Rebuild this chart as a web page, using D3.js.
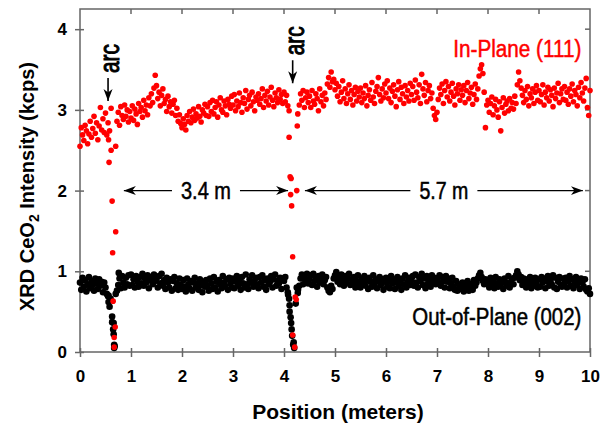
<!DOCTYPE html>
<html>
<head>
<meta charset="utf-8">
<script src="https://cdn.jsdelivr.net/npm/d3@7"></script>
<style>
  body { margin: 0; background: #fff; }
  text { font-family: "Liberation Sans", Arial, sans-serif; }
</style>
</head>
<body>
<div id="chart"></div>
<script>
// ===== DATA =====
// scan sampled every 0.025 m starting at 0 m; null = inside an arc dip (listed apart)
const POS_STEP = 0.025;

const inPlane = [
  2.55,2.78,2.69,2.62,2.81,2.74,2.58,2.70,2.86,2.66,2.77,2.92,2.71,2.84,2.63,2.80,3.03,2.75,2.89,2.72,
  2.96,2.69,2.84,null,null,null,null,null,null,2.86,2.97,2.81,3.04,2.93,2.88,3.06,2.92,3.00,2.85,2.98,
  2.90,3.05,2.87,3.01,2.95,2.82,3.08,2.98,3.03,2.91,3.12,2.99,3.06,2.94,3.15,3.05,3.20,3.09,3.27,3.43,
  3.30,3.14,3.22,3.05,3.18,3.26,3.08,3.13,2.98,3.17,3.04,3.10,2.96,3.07,3.12,2.93,3.02,2.86,2.94,2.83,
  2.78,2.89,2.82,2.75,2.93,2.86,2.98,2.84,2.91,3.01,2.87,2.95,2.90,3.04,2.92,2.85,3.00,2.96,3.07,2.93,
  3.04,2.92,3.09,2.98,3.12,2.95,3.03,3.10,2.91,3.06,3.15,3.00,2.97,3.11,3.05,2.94,3.13,3.07,3.02,3.17,
  3.06,3.19,2.99,3.11,3.04,3.21,3.09,2.97,3.15,3.08,3.24,3.01,3.13,3.18,3.05,3.22,3.10,2.99,3.16,3.12,
  3.20,3.07,3.14,3.26,3.03,3.18,3.11,3.23,3.06,3.16,3.28,3.12,3.04,3.21,3.15,3.09,3.25,3.13,3.19,3.08,
  3.22,3.10,3.18,3.05,null,null,null,null,null,null,null,null,3.06,3.20,3.12,3.24,3.03,3.15,3.22,3.09,
  3.17,3.03,3.24,3.11,3.07,3.20,3.14,2.99,3.26,3.10,3.18,3.05,3.21,3.13,3.32,3.40,3.28,3.47,3.35,3.38,
  3.25,3.33,3.17,3.29,3.10,3.22,3.36,3.14,3.26,3.08,3.20,3.31,3.13,3.24,3.06,3.19,3.28,3.11,3.23,3.16,
  3.27,3.09,3.21,3.14,3.30,3.05,3.18,3.25,3.12,3.34,3.16,3.08,3.23,3.29,3.40,3.19,3.11,3.26,3.15,3.32,
  3.21,3.36,3.14,3.27,3.09,3.23,3.31,3.17,3.04,3.25,3.35,3.13,3.28,3.20,3.08,3.30,3.16,3.24,3.11,3.33,
  3.19,3.29,3.12,3.37,3.22,3.15,3.31,3.08,3.44,3.26,3.18,3.34,3.10,3.24,3.30,3.14,3.21,3.02,2.93,2.88,
  2.97,3.13,3.27,3.19,3.32,3.08,3.24,3.35,3.16,3.29,3.11,3.22,3.33,3.17,3.06,3.26,3.20,3.31,3.12,3.25,
  3.18,3.30,3.09,3.24,3.34,3.14,3.21,3.28,3.07,3.19,3.32,3.13,3.26,3.42,3.51,3.56,3.45,3.22,2.78,3.06,
  3.12,2.97,3.08,3.16,2.94,3.05,3.13,3.00,2.91,3.10,2.74,3.03,3.15,2.96,3.07,3.11,2.99,3.14,3.02,3.09,
  3.01,3.17,3.08,3.31,3.47,3.36,3.27,3.18,3.09,3.24,3.13,3.29,3.05,3.20,3.15,3.26,3.08,3.22,3.30,3.12,
  3.24,3.10,3.19,3.31,3.06,3.22,3.15,3.28,3.11,3.25,3.18,3.04,3.27,3.14,3.21,3.33,3.09,3.20,3.26,3.13,
  3.29,3.12,3.22,3.07,3.26,3.17,3.32,3.10,3.24,3.19,3.05,3.28,3.15,3.34,3.21,3.11,3.27,3.39,3.03,2.93,
  3.24
];

const outPlane = [
  0.86,0.77,0.92,0.81,0.89,0.75,0.84,0.93,0.79,0.88,0.83,0.76,0.91,0.85,0.78,0.90,0.82,0.87,0.74,0.86,
  0.80,0.72,0.69,null,null,null,null,null,null,0.76,0.83,0.91,0.79,0.94,0.86,0.80,0.92,0.84,0.95,0.82,
  0.96,0.83,0.90,0.80,0.94,0.87,0.81,0.93,0.85,0.97,0.82,0.91,0.86,0.95,0.79,0.89,0.93,0.84,0.96,0.88,
  0.91,0.80,0.94,0.85,0.97,0.82,0.89,0.78,0.92,0.86,0.80,0.90,0.76,0.88,0.93,0.79,0.85,0.77,0.91,0.83,
  0.78,0.89,0.81,0.75,0.91,0.84,0.79,0.88,0.76,0.86,0.92,0.80,0.85,0.77,0.90,0.83,0.74,0.87,0.81,0.89,
  0.82,0.76,0.91,0.85,0.78,0.93,0.80,0.87,0.75,0.89,0.84,0.79,0.94,0.86,0.81,0.90,0.77,0.92,0.85,0.80,
  0.91,0.79,0.87,0.94,0.82,0.89,0.77,0.93,0.85,0.80,0.96,0.84,0.78,0.90,0.86,0.95,0.81,0.88,0.92,0.83,
  0.79,0.93,0.86,0.95,0.81,0.89,0.77,0.91,0.84,0.87,0.94,0.80,0.90,0.96,0.82,0.88,0.85,0.92,0.78,0.91,
  0.88,0.93,0.80,0.74,null,null,null,null,null,null,null,0.77,0.82,0.91,0.96,0.84,0.93,0.87,0.97,0.85,
  0.90,0.95,0.83,0.97,0.88,0.92,0.81,0.94,0.86,0.91,0.96,0.84,0.89,0.93,0.80,0.76,0.74,0.82,0.78,0.91,
  0.95,0.99,0.87,0.93,0.84,0.96,0.89,0.82,0.94,0.86,0.91,0.97,0.83,0.90,0.85,0.93,0.80,0.88,0.95,0.84,
  0.80,0.91,0.86,0.94,0.82,0.89,0.78,0.92,0.87,0.81,0.95,0.84,0.90,0.79,0.88,0.93,0.83,0.90,0.77,0.87,
  0.92,0.81,0.88,0.79,0.94,0.85,0.90,0.78,0.86,0.93,0.82,0.89,0.77,0.91,0.84,0.95,0.80,0.87,0.92,0.83,
  0.89,0.94,0.82,0.96,0.86,0.80,0.93,0.88,0.97,0.83,0.91,0.79,0.94,0.85,0.90,0.81,0.95,0.87,0.92,0.84,
  0.91,0.86,0.95,0.82,0.93,0.88,0.80,0.94,0.87,0.91,0.79,0.85,0.92,0.81,0.77,0.88,0.76,0.84,0.80,0.78,
  0.86,0.75,0.83,0.79,0.88,0.76,0.84,0.81,0.77,0.89,0.82,0.86,0.91,0.95,0.98,0.93,0.88,0.84,0.90,0.85,
  0.89,0.80,0.92,0.84,0.87,0.79,0.93,0.85,0.81,0.90,0.83,0.88,0.78,0.91,0.86,0.82,0.94,0.80,0.87,0.91,
  0.84,0.92,0.95,1.00,0.96,0.89,0.93,0.83,0.91,0.86,0.80,0.90,0.84,0.93,0.79,0.88,0.82,0.92,0.85,0.80,
  0.90,0.81,0.93,0.86,0.91,0.79,0.88,0.94,0.82,0.89,0.84,0.95,0.80,0.92,0.78,0.87,0.93,0.83,0.81,0.91,
  0.85,0.92,0.80,0.88,0.94,0.82,0.90,0.79,0.87,0.93,0.83,0.89,0.78,0.91,0.86,0.81,0.90,0.77,0.75,0.79,
  0.72
];

// points in the two arc dips [position, intensity]
const inPlaneArc = [
  [0.56,2.63],[0.58,2.74],[0.61,3.02],[0.61,2.50],[0.57,2.35],[0.70,2.55],[0.63,1.87],[0.70,1.49],
  [0.64,1.23],[0.65,0.63],[0.69,0.31],[0.67,0.18],[0.67,0.06],
  [4.10,2.99],[4.10,2.66],[4.12,2.17],[4.14,2.15],[4.13,1.95],[4.15,1.81],[4.17,1.18],[4.25,2.00],
  [4.26,2.80],[4.27,2.95],[4.24,0.65],[4.22,0.68],[4.17,0.21],[4.21,0.06]
];
const outPlaneArc = [
  [0.56,0.70],[0.56,0.62],[0.58,0.56],[0.60,0.66],[0.63,0.44],[0.63,0.37],[0.66,0.36],[0.65,0.28],
  [0.66,0.22],[0.67,0.09],[0.67,0.05],[0.68,0.07],[0.70,0.72],[0.76,0.98],
  [4.08,0.71],[4.10,0.66],[4.11,0.58],[4.11,0.50],[4.13,0.43],[4.14,0.36],[4.15,0.28],[4.16,0.20],
  [4.18,0.09],[4.20,0.05],[4.19,0.12],[4.25,0.80],[4.27,0.73],[4.23,0.60]
];

const xTicks = [0,1,2,3,4,5,6,7,8,9,10];
const yTicks = [0,1,2,3,4];

// arc markers: position, arrow tip intensity
const arcNotes = [
  { x: 0.55, tip: 3.11, label: "arc" },
  { x: 4.17, tip: 3.33, label: "arc" }
];
// distances between arcs
const spans = [
  { from: 0.86, to: 4.08, y: 2.0, label: "3.4 m", len: 50 },
  { from: 4.41, to: 9.86, y: 2.0, label: "5.7 m", len: 49 }
];
const seriesLabels = [
  { label: "In-Plane (111)", x: 9.83, y: 3.65, color: "#ff0000", len: 128 },
  { label: "Out-of-Plane (002)", x: 9.83, y: 0.33, color: "#000", len: 169 }
];

// ===== CHART =====
const width = 609, height = 428;
const margin = { top: 9, right: 19, bottom: 76, left: 80 };

const svg = d3.select("#chart").append("svg")
  .attr("width", width)
  .attr("height", height);

const x = d3.scaleLinear().domain([0, 10]).range([margin.left, width - margin.right]);
const y = d3.scaleLinear().domain([0, 4.25]).range([height - margin.bottom, margin.top]);

const axisColor = "#666";

// arrow head
svg.append("defs").append("marker")
  .attr("id", "head")
  .attr("viewBox", "0 -5 12 10")
  .attr("refX", 12).attr("refY", 0)
  .attr("markerWidth", 12).attr("markerHeight", 10)
  .attr("markerUnits", "userSpaceOnUse")
  .attr("orient", "auto")
  .append("path")
  .attr("d", "M0,-4.5L12,0L0,4.5L3.5,0Z")
  .attr("fill", "#000");

// frame
svg.append("rect")
  .attr("x", x(0)).attr("y", y(4.25))
  .attr("width", x(10) - x(0)).attr("height", y(0) - y(4.25))
  .attr("fill", "none").attr("stroke", axisColor).attr("stroke-width", 1.5);

// bottom axis
const xAxis = svg.append("g")
  .attr("transform", `translate(0,${y(0)})`)
  .call(d3.axisBottom(x).tickValues(xTicks).tickSize(5).tickFormat(d3.format("d")));
xAxis.select(".domain").remove();
xAxis.selectAll(".tick line").attr("y1", -4).attr("stroke", axisColor).attr("stroke-width", 1.5);
xAxis.selectAll(".tick text")
  .attr("y", 18).attr("dy", "0.71em")
  .style("font-size", "17px").style("font-weight", "bold").attr("fill", "#000");

// left axis
const yAxis = svg.append("g")
  .attr("transform", `translate(${x(0)},0)`)
  .call(d3.axisLeft(y).tickValues(yTicks).tickSize(5).tickFormat(d3.format("d")));
yAxis.select(".domain").remove();
yAxis.selectAll(".tick line").attr("x1", 4).attr("stroke", axisColor).attr("stroke-width", 1.5);
yAxis.selectAll(".tick text")
  .attr("x", -13)
  .style("font-size", "17px").style("font-weight", "bold").attr("fill", "#000");

// inner ticks on top and right
svg.append("g").selectAll("line")
  .data(xTicks.slice(1, -1))
  .join("line")
  .attr("x1", d => x(d)).attr("x2", d => x(d))
  .attr("y1", y(4.25)).attr("y2", y(4.25) + 5)
  .attr("stroke", axisColor).attr("stroke-width", 1.5);
svg.append("g").selectAll("line")
  .data(yTicks.slice(1))
  .join("line")
  .attr("x1", x(10)).attr("x2", x(10) - 5)
  .attr("y1", d => y(d)).attr("y2", d => y(d))
  .attr("stroke", axisColor).attr("stroke-width", 1.5);

// axis titles
svg.append("text")
  .attr("x", (x(0) + x(10)) / 2 + 3).attr("y", 419)
  .attr("text-anchor", "middle")
  .style("font-size", "21px").style("font-weight", "bold")
  .text("Position (meters)");

const yTitle = svg.append("text")
  .attr("transform", `translate(34,${(y(0) + y(4.25)) / 2 + 6}) rotate(-90)`)
  .attr("text-anchor", "middle")
  .style("font-size", "20px").style("font-weight", "bold");
yTitle.append("tspan").text("XRD CeO");
yTitle.append("tspan").attr("dy", 5).style("font-size", "14px").text("2");
yTitle.append("tspan").attr("dy", -5).text(" Intensity (kcps)");

// ===== POINTS =====
function gridPoints(values) {
  return values
    .map((v, i) => v == null ? null : { x: i * POS_STEP, y: v })
    .filter(p => p);
}

const black = gridPoints(outPlane).concat(outPlaneArc.map(d => ({ x: d[0], y: d[1] })));
const red = gridPoints(inPlane).concat(inPlaneArc.map(d => ({ x: d[0], y: d[1] })));

svg.append("g").selectAll("circle")
  .data(black)
  .join("circle")
  .attr("cx", d => x(d.x)).attr("cy", d => y(d.y))
  .attr("r", 3.3).attr("fill", "#000");

svg.append("g").selectAll("circle")
  .data(red)
  .join("circle")
  .attr("cx", d => x(d.x)).attr("cy", d => y(d.y))
  .attr("r", 2.8).attr("fill", "#ff0000");

// ===== ANNOTATIONS =====
// condensed look: squeeze the text to the width seen in the figure
function note(sel, size, len, color, weight) {
  return sel
    .style("font-size", size + "px")
    .attr("textLength", len)
    .attr("lengthAdjust", "spacingAndGlyphs")
    .attr("fill", color)
    .attr("stroke", color)
    .attr("stroke-width", weight || 0.5);
}

arcNotes.forEach(a => {
  const tipY = y(a.tip);
  svg.append("line")
    .attr("x1", x(a.x)).attr("x2", x(a.x))
    .attr("y1", tipY - 23).attr("y2", tipY)
    .attr("stroke", "#000").attr("stroke-width", 1.6)
    .attr("marker-end", "url(#head)");
  svg.append("text")
    .attr("transform", `translate(${x(a.x) + 11},${tipY - 28}) rotate(-90)`)
    .call(note, 27, 29, "#000", 1)
    .text(a.label);
});

spans.forEach(s => {
  const mid = (x(s.from) + x(s.to)) / 2;
  const cy = y(s.y);
  svg.append("text")
    .attr("x", mid).attr("y", cy + 8)
    .attr("text-anchor", "middle")
    .call(note, 23, s.len, "#000")
    .text(s.label);
  svg.append("line")
    .attr("x1", mid - s.len / 2 - 9).attr("x2", x(s.from))
    .attr("y1", cy).attr("y2", cy)
    .attr("stroke", "#000").attr("stroke-width", 1.3)
    .attr("marker-end", "url(#head)");
  svg.append("line")
    .attr("x1", mid + s.len / 2 + 9).attr("x2", x(s.to))
    .attr("y1", cy).attr("y2", cy)
    .attr("stroke", "#000").attr("stroke-width", 1.3)
    .attr("marker-end", "url(#head)");
});

seriesLabels.forEach(l => {
  svg.append("text")
    .attr("x", x(l.x)).attr("y", y(l.y))
    .attr("text-anchor", "end")
    .call(note, 23, l.len, l.color)
    .text(l.label);
});
</script>
</body>
</html>
